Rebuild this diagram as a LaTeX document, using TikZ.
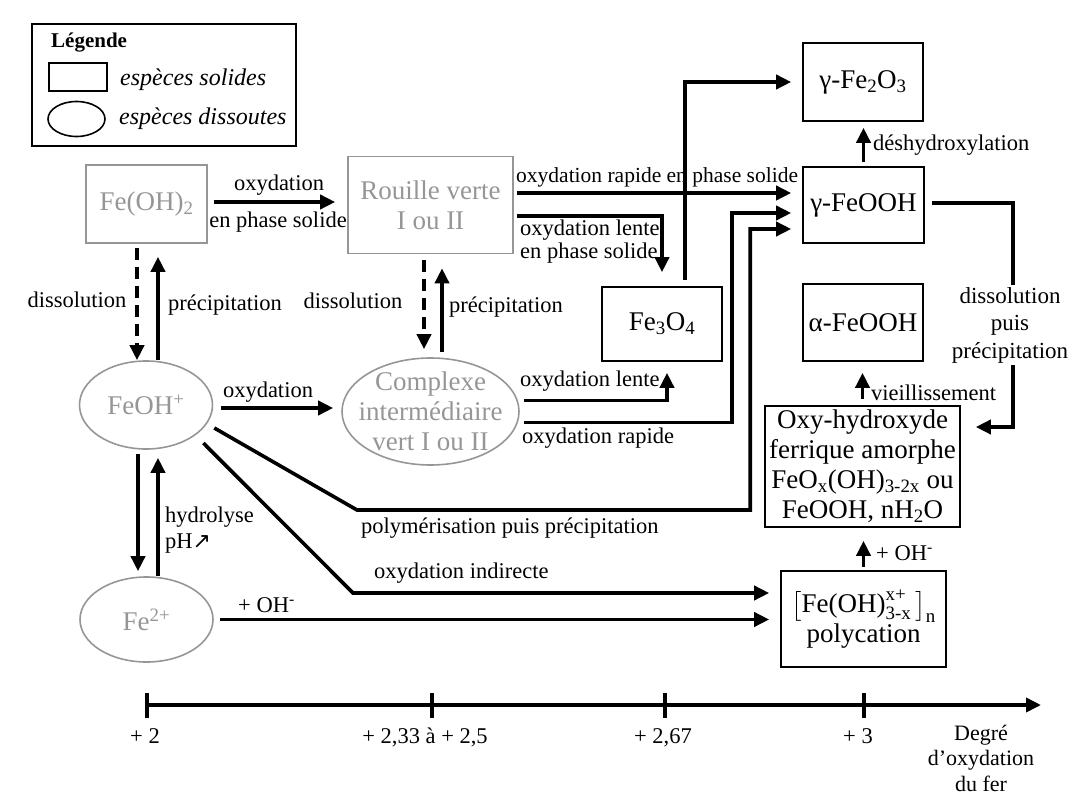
\documentclass[tikz,border=0pt]{standalone}
\usepackage{amsmath}
\usepackage{fontspec}
\setmainfont{Liberation Serif}
\newfontfamily\arrowfont{DejaVu Sans}
\usetikzlibrary{arrows.meta,shapes.geometric}
\definecolor{pale}{RGB}{150,150,150}
\begin{document}
\begin{tikzpicture}[x=1pt, y=-1pt, >={Triangle[length=15,width=14]}]
        \tikzstyle{sol} = [draw, black, line width=1.6, inner sep=0, align=center, font=\fontsize{27}{30}\selectfont]
        \tikzstyle{gsol} = [sol, draw=pale, text=pale]
        \tikzstyle{dis} = [draw=pale, ellipse, line width=1.6, inner sep=0]
        \tikzstyle{gtxt} = [text=pale, inner sep=0, align=center, font=\fontsize{27}{30}\selectfont]
        \tikzstyle{lbl} = [inner sep=0, font=\fontsize{22.5}{26}\selectfont]
        \tikzstyle{blk} = [draw, black, line width=3.6]
        \tikzstyle{dsh} = [blk, dash pattern=on 12 off 7]

        \useasboundingbox (0,0) rectangle (1073,794);

        \node[draw, line width=1.6, minimum width=264, minimum height=122] (legend) at (164,85) {};
        \node[lbl, anchor=west, font=\bfseries\fontsize{21}{24}\selectfont] (legend title) at (51,43) {Légende};
        \node[draw, line width=1.6, minimum width=58, minimum height=28] (legend solid) at (78,77) {};
        \node[dis, draw=black, minimum width=57, minimum height=35] (legend dissolved) at (76.5,119) {};
        \node[lbl, anchor=west, font=\itshape\fontsize{24}{28}\selectfont] (solid text) at (120,80) {espèces solides};
        \node[lbl, anchor=west, font=\itshape\fontsize{24}{28}\selectfont] (dissolved text) at (119,119) {espèces dissoutes};

        \node[gsol, minimum width=121, minimum height=78] (feoh2) at (146.5,204) {Fe(OH)\textsubscript{2}};
        \node[gsol, minimum width=165, minimum height=97] (rouille) at (430.5,205) {Rouille verte\\I ou II};
        \node[sol, minimum width=120, minimum height=74] (fe3o4) at (662,324) {Fe\textsubscript{3}O\textsubscript{4}};
        \node[sol, minimum width=120, minimum height=78] (gfe2o3) at (863,82) {γ-Fe\textsubscript{2}O\textsubscript{3}};
        \node[sol, minimum width=121, minimum height=76] (gfeooh) at (863.5,205) {γ-FeOOH};
        \node[sol, minimum width=120, minimum height=77] (afeooh) at (863,322.5) {α-FeOOH};
        \node[sol, minimum width=195, minimum height=121] (oxy) at (862.5,466.5) {Oxy-hydroxyde\\ferrique amorphe\\FeO\textsubscript{x}(OH)\textsubscript{3-2x} ou\\FeOOH, nH\textsubscript{2}O};
        \node[sol, minimum width=165, minimum height=96] (poly) at (863.5,619) {$\left[\text{Fe(OH)}^{\text{x+}}_{\text{3-x}}\,\right]_{\text{n}}$\\polycation};

        \node[dis, minimum width=133, minimum height=88] (feoh) at (146,405) {};
        \node[gtxt] (feoh text) at (feoh) {FeOH\textsuperscript{+}};
        \node[dis, minimum width=177, minimum height=107] (complexe) at (430.5,411.5) {};
        \node[gtxt] (complexe text) at (complexe) {Complexe\\intermédiaire\\vert I ou II};
        \node[dis, minimum width=133, minimum height=85] (fe2) at (146.5,619.5) {};
        \node[gtxt] (fe2 text) at (fe2) {Fe\textsuperscript{2+}};

        \coordinate (poly bend) at (357,510);
        \coordinate (indirect bend) at (353,593);

        \path[blk, ->, shorten <=6, shorten >=12] ([yshift=2]feoh2.east) to ([yshift=2]feoh2.east -| rouille.west);
        \path[dsh, ->, shorten <=4] ([xshift=-9.5]feoh2.south) to ([xshift=-9.5]feoh2.south |- feoh.north);
        \path[blk, ->, shorten >=13] ([xshift=11.5]feoh2.south |- feoh.north) to ([xshift=11.5]feoh2.south);
        \path[dsh, ->, shorten <=6, shorten >=8] ([xshift=-6.5]rouille.south) to ([xshift=-6.5]rouille.south |- complexe.north);
        \path[blk, ->, shorten <=5, shorten >=14] ([xshift=11.5]rouille.south |- complexe.north) to ([xshift=11.5]rouille.south);
        \path[blk, ->, shorten <=8, shorten >=8] ([yshift=-3]feoh.east) to ([yshift=-3]feoh.east -| complexe.west);
        \path[blk, ->, shorten <=4, shorten >=5] ([xshift=-8]feoh.south) to ([xshift=-8]feoh.south |- fe2.north);
        \path[blk, ->, shorten >=8] ([xshift=12]feoh.south |- fe2.north) to ([xshift=12]feoh.south);
        \path[blk, ->, shorten <=3, shorten >=11] ([yshift=12]rouille.east) to ([yshift=12]rouille.east -| gfeooh.west);
        \path[blk, ->, shorten <=3, shorten >=14] ([yshift=-11]rouille.east) -| (fe3o4.north);
        \path[blk, ->, shorten <=6, shorten >=11] ([xshift=23]fe3o4.north) |- (gfe2o3.west);
        \path[blk, ->, shorten <=4, shorten >=11] ([yshift=11]complexe.east) -| ([xshift=5]fe3o4.south);
        \path[blk, ->, shorten <=4, shorten >=11] ([yshift=-11]complexe.east) -| ([xshift=-70,yshift=-8]gfeooh.west) -- ([yshift=-8]gfeooh.west);
        \path[blk, ->, shorten >=11] ([xshift=1,yshift=-23]feoh.east) -- (poly bend) -| ([xshift=-52,yshift=-24]gfeooh.west) -- ([yshift=-24]gfeooh.west);
        \path[blk, ->, shorten >=11] ([xshift=-10,yshift=-38]feoh.east) -- (indirect bend) -- (indirect bend -| poly.west);
        \path[blk, ->, shorten <=6, shorten >=11] (fe2.east) to (fe2.east -| poly.west);
        \path[blk, ->, shorten <=4, shorten >=6] (gfeooh.north) to (gfeooh.north |- gfe2o3.south);
        \path[blk, ->, shorten <=6, shorten >=11] (oxy.north) to (oxy.north |- afeooh.south);
        \path[blk, ->, shorten <=3, shorten >=13] (poly.north) to (poly.north |- oxy.south);
        \path[blk, ->, shorten <=7, shorten >=15] ([yshift=2]gfeooh.east) -| ([xshift=52,yshift=39.5]oxy.east) -- ([yshift=39.5]oxy.east);

        \node[lbl] (ox solid label) at (279,185) {oxydation};
        \node[lbl] (ox phase label) at (278,222) {en phase solide};
        \node[lbl] (diss left label) at (77,300) {dissolution};
        \node[lbl] (prec left label) at (225,305) {précipitation};
        \node[lbl] (diss mid label) at (353,301) {dissolution};
        \node[lbl] (prec mid label) at (506,307) {précipitation};
        \node[lbl] (ox ion label) at (268,392) {oxydation};
        \node[lbl, anchor=west, font=\fontsize{21.5}{24}\selectfont] (rapide solid label) at (516,177) {oxydation rapide en phase solide};
        \node[lbl, anchor=west, align=left, font=\fontsize{22.5}{23}\selectfont] (lente solid label) at (520,242) {oxydation lente\\en phase solide};
        \node[lbl, anchor=west] (lente label) at (520,381) {oxydation lente};
        \node[lbl, anchor=west] (rapide label) at (522,438) {oxydation rapide};
        \node[lbl, anchor=west] (polym label) at (361,528) {polymérisation puis précipitation};
        \node[lbl, anchor=west] (indirect label) at (374,573) {oxydation indirecte};
        \node[lbl, anchor=west, align=left] (hydro label) at (165,530) {hydrolyse\\pH{\arrowfont\fontsize{22}{24}\selectfont ↗}};
        \node[lbl, anchor=west] (oh fe label) at (238,605) {+ OH\textsuperscript{-}};
        \node[lbl, anchor=west] (deshy label) at (873,145) {déshydroxylation};
        \node[lbl, anchor=west] (vieil label) at (871,393) {vieillissement};
        \node[lbl, anchor=west] (oh poly label) at (876,553) {+ OH\textsuperscript{-}};
        \node[lbl, fill=white, inner ysep=2, align=center, font=\fontsize{23}{27.5}\selectfont] (diss right label) at (1010,325) {dissolution\\puis\\précipitation};

        \coordinate (axis start) at (147,705);
        \coordinate (axis end) at (1041,705);
        \coordinate (tick a) at (147,705);
        \coordinate (tick b) at (432,705);
        \coordinate (tick c) at (665,705);
        \coordinate (tick d) at (864,705);

        \path[blk, ->] (axis start) to (axis end);
        \path[blk] ([yshift=12]tick a) to ([yshift=-13]tick a);
        \path[blk] ([yshift=12]tick b) to ([yshift=-13]tick b);
        \path[blk] ([yshift=12]tick c) to ([yshift=-13]tick c);
        \path[blk] ([yshift=12]tick d) to ([yshift=-13]tick d);

        \node[lbl, anchor=base] (deg a) at (145,743) {+ 2};
        \node[lbl, anchor=base] (deg b) at (425,743) {+ 2,33 à + 2,5};
        \node[lbl, anchor=base] (deg c) at (663,743) {+ 2,67};
        \node[lbl, anchor=base] (deg d) at (858,743) {+ 3};
        \node[lbl, align=center, font=\fontsize{22}{25.5}\selectfont] (deg axis) at (981,758) {Degré\\d'oxydation\\du fer};
    \end{tikzpicture}
\end{document}
